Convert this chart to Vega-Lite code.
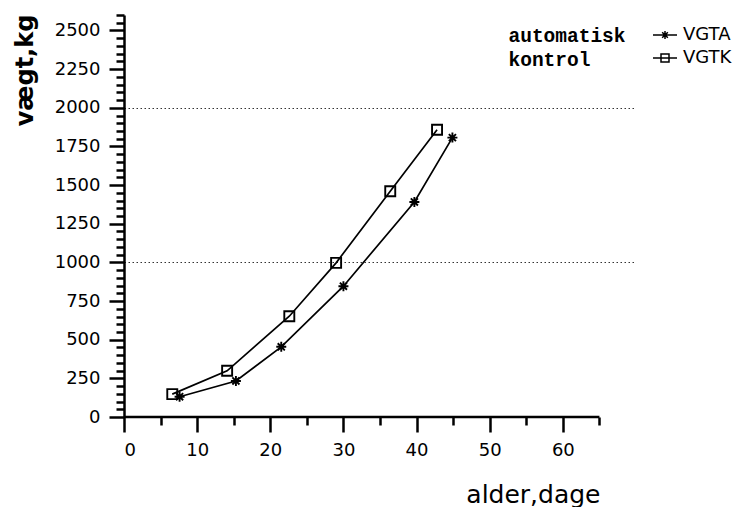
{
  "$schema": "https://vega.github.io/schema/vega-lite/v6.json",
  "width": 512,
  "height": 402,
  "autosize": "none",
  "padding": {"left": 124, "top": 15, "right": 107, "bottom": 90},
  "background": "white",
  "config": {
    "view": {"stroke": null},
    "axis": {
      "labelFont": "DejaVu Sans",
      "labelFontSize": 18,
      "labelColor": "black",
      "tickColor": "black",
      "domainColor": "black",
      "titleColor": "black",
      "grid": false
    }
  },
  "data": {
    "values": [
      {"serie": "VGTA", "behandling": "automatisk", "alder": 7.6, "vaegt": 131},
      {"serie": "VGTA", "behandling": "automatisk", "alder": 15.3, "vaegt": 233},
      {"serie": "VGTA", "behandling": "automatisk", "alder": 21.5, "vaegt": 454},
      {"serie": "VGTA", "behandling": "automatisk", "alder": 30.0, "vaegt": 846},
      {"serie": "VGTA", "behandling": "automatisk", "alder": 39.7, "vaegt": 1391},
      {"serie": "VGTA", "behandling": "automatisk", "alder": 44.9, "vaegt": 1807},
      {"serie": "VGTK", "behandling": "kontrol", "alder": 6.6, "vaegt": 148},
      {"serie": "VGTK", "behandling": "kontrol", "alder": 14.1, "vaegt": 299},
      {"serie": "VGTK", "behandling": "kontrol", "alder": 22.6, "vaegt": 652},
      {"serie": "VGTK", "behandling": "kontrol", "alder": 29.0, "vaegt": 997},
      {"serie": "VGTK", "behandling": "kontrol", "alder": 36.4, "vaegt": 1460},
      {"serie": "VGTK", "behandling": "kontrol", "alder": 42.8, "vaegt": 1858}
    ]
  },
  "layer": [
    {
      "data": {"values": [{"akse": "x"}]},
      "mark": {"type": "rule", "color": "black", "strokeWidth": 2.5},
      "encoding": {
        "x": {"datum": 0, "type": "quantitative", "axis": null, "scale": {"domain": [0, 70], "nice": false}},
        "x2": {"datum": 65},
        "y": {
          "datum": 0,
          "type": "quantitative",
          "scale": {"domain": [0, 2600], "nice": false},
          "axis": {
            "orient": "left",
            "values": [1000, 2000],
            "grid": true,
            "gridDash": [1.5, 2.5],
            "gridColor": "#333333",
            "gridWidth": 1,
            "domain": false,
            "ticks": false,
            "labels": false,
            "title": null
          }
        }
      }
    },
    {
      "mark": {"type": "line", "strokeWidth": 1.7},
      "encoding": {
        "x": {
          "field": "alder",
          "type": "quantitative",
          "scale": {"domain": [0, 70], "nice": false},
          "axis": {
            "orient": "bottom",
            "values": [0, 10, 20, 30, 40, 50, 60],
            "tickSize": 15,
            "tickWidth": 2.5,
            "domain": false,
            "labelPadding": 9,
            "format": "d",
            "title": "alder,dage",
            "titleFont": "DejaVu Sans",
            "titleFontSize": 25,
            "titleFontWeight": "normal",
            "titleX": 476,
            "titleY": 85,
            "titleAlign": "right",
            "titleBaseline": "alphabetic",
            "titleAngle": 0
          }
        },
        "y": {
          "field": "vaegt",
          "type": "quantitative",
          "scale": {"domain": [0, 2600], "nice": false},
          "axis": {
            "orient": "left",
            "values": [0, 250, 500, 750, 1000, 1250, 1500, 1750, 2000, 2250, 2500],
            "format": "d",
            "tickSize": 15,
            "tickWidth": 2.5,
            "domainWidth": 2.5,
            "labelPadding": 9,
            "title": "vægt,kg",
            "titleFont": "DejaVu Sans",
            "titleFontSize": 24,
            "titleFontWeight": "bold",
            "titleAngle": -90,
            "titleX": -99,
            "titleY": 55,
            "titleAlign": "center",
            "titleBaseline": "middle"
          }
        },
        "color": {
          "field": "behandling",
          "type": "nominal",
          "scale": {"domain": ["automatisk", "kontrol"], "range": ["black", "black"]},
          "legend": {
            "orient": "none",
            "legendX": 365,
            "legendY": 11,
            "title": null,
            "padding": 0,
            "symbolOpacity": 0,
            "symbolSize": 0,
            "labelOffset": 0,
            "labelFont": "Liberation Mono",
            "labelFontWeight": "bold",
            "labelFontSize": 19.5,
            "labelColor": "black",
            "rowPadding": 3.5
          }
        },
        "detail": {"field": "serie"}
      }
    },
    {
      "mark": {"type": "point", "filled": false, "color": "black", "strokeWidth": 1.9, "size": 100, "opacity": 1},
      "encoding": {
        "x": {
          "field": "alder",
          "type": "quantitative",
          "scale": {"domain": [0, 70], "nice": false},
          "axis": {
            "orient": "bottom",
            "values": [5, 15, 25, 35, 45, 55, 65],
            "tickSize": 8,
            "tickWidth": 2.5,
            "domain": false,
            "labels": false,
            "title": null
          }
        },
        "y": {
          "field": "vaegt",
          "type": "quantitative",
          "scale": {"domain": [0, 2600], "nice": false},
          "axis": {
            "orient": "left",
            "values": [50, 100, 150, 200, 300, 350, 400, 450, 550, 600, 650, 700, 800, 850, 900, 950, 1050, 1100, 1150, 1200, 1300, 1350, 1400, 1450, 1550, 1600, 1650, 1700, 1800, 1850, 1900, 1950, 2050, 2100, 2150, 2200, 2300, 2350, 2400, 2450, 2550, 2600],
            "tickSize": 8,
            "tickWidth": 2.5,
            "domain": false,
            "labels": false,
            "title": null
          }
        },
        "shape": {
          "field": "serie",
          "type": "nominal",
          "scale": {
            "domain": ["VGTA", "VGTK"],
            "range": ["M-1,0L1,0M0,-1L0,1M-0.71,-0.71L0.71,0.71M-0.71,0.71L0.71,-0.71", "square"]
          },
          "legend": null
        }
      }
    },
    {
      "mark": {"type": "point", "filled": false, "color": "black", "strokeWidth": 1.5, "size": 64, "opacity": 0},
      "encoding": {
        "x": {"field": "alder", "type": "quantitative", "scale": {"domain": [0, 70], "nice": false}, "axis": null},
        "y": {"field": "vaegt", "type": "quantitative", "scale": {"domain": [0, 2600], "nice": false}, "axis": null},
        "shape": {
          "field": "serie",
          "type": "nominal",
          "scale": {
            "domain": ["VGTA", "VGTK"],
            "range": ["M-3,0H3M0,-1V1M-0.71,-0.71L0.71,0.71M-0.71,0.71L0.71,-0.71", "M-3,0H3M-1,-1H1V1H-1Z"]
          },
          "legend": {
            "orient": "none",
            "legendX": 532,
            "legendY": 11,
            "title": null,
            "padding": 0,
            "symbolSize": 64,
            "symbolOpacity": 1,
            "symbolStrokeColor": "black",
            "symbolStrokeWidth": 1.5,
            "symbolFillColor": "transparent",
            "labelOffset": 9,
            "labelFont": "DejaVu Sans",
            "labelFontSize": 18,
            "labelColor": "black",
            "rowPadding": 5
          }
        }
      }
    }
  ],
  "resolve": {"axis": {"x": "independent", "y": "independent"}, "scale": {"shape": "independent"}}
}
